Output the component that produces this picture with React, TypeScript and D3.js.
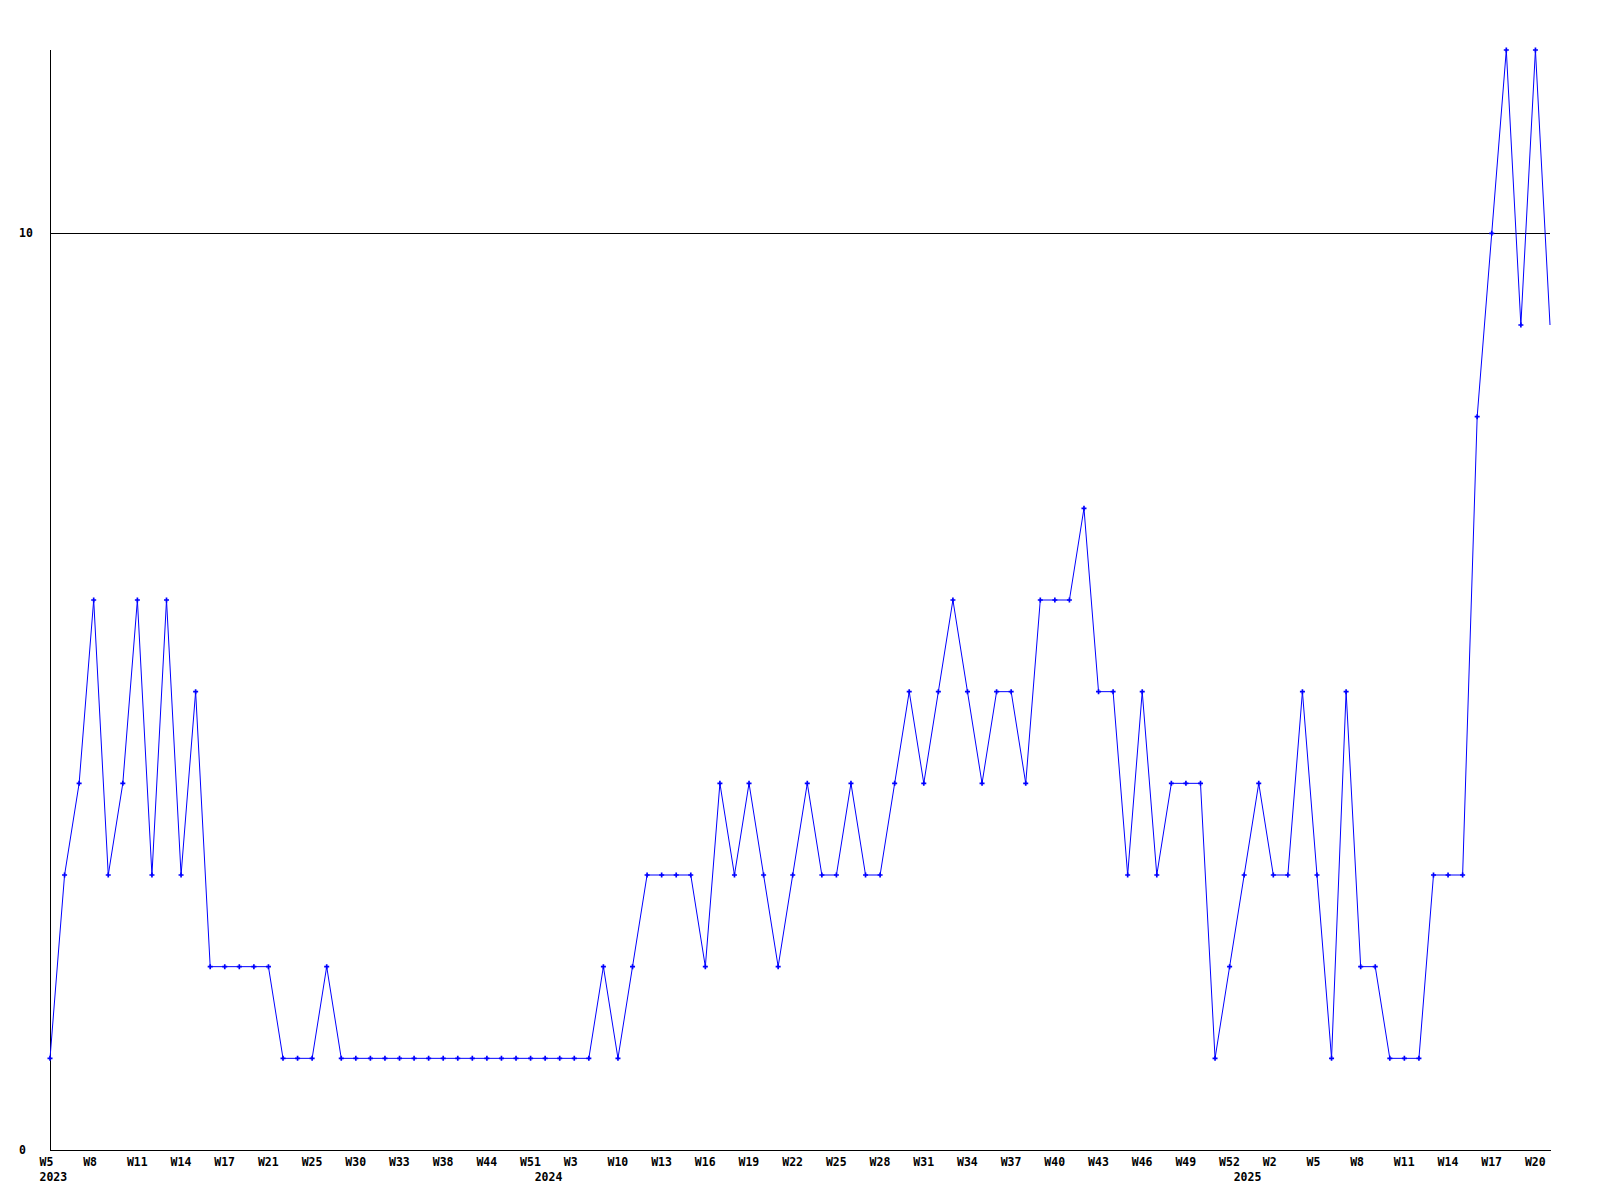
import { useEffect, useRef } from 'react';
import * as d3 from 'd3';

// weekly counts, one per week present in the data (2023 W5 .. 2025 W21)
const values: number[] = [
  1, 3, 4, 6, 3, 4, 6, 3, 6, 3, 5, 2, 2, 2, 2, 2, 1, 1, 1, 2,
  1, 1, 1, 1, 1, 1, 1, 1, 1, 1, 1, 1, 1, 1, 1, 1, 1, 1, 2, 1,
  2, 3, 3, 3, 3, 2, 4, 3, 4, 3, 2, 3, 4, 3, 3, 4, 3, 3, 4, 5,
  4, 5, 6, 5, 4, 5, 5, 4, 6, 6, 6, 7, 5, 5, 3, 5, 3, 4, 4, 4,
  1, 2, 3, 4, 3, 3, 5, 3, 1, 5, 2, 2, 1, 1, 1, 3, 3, 3, 8, 10,
  12, 9, 12, 9,
];

// week labels shown on every third point
const weekTicks: string[] = [
  'W5', 'W8', 'W11', 'W14', 'W17', 'W21', 'W25', 'W30', 'W33', 'W38', 'W44', 'W51',
  'W3', 'W10', 'W13', 'W16', 'W19', 'W22', 'W25', 'W28', 'W31', 'W34', 'W37', 'W40',
  'W43', 'W46', 'W49', 'W52', 'W2', 'W5', 'W8', 'W11', 'W14', 'W17', 'W20',
];
const weekTickStep = 3;

// year labels and the index of the point they start at
const years: string[] = ['2023', '2024', '2025'];
const yearStarts: number[] = [0, 34, 82];

const yTicks: number[] = [0, 10];
const yMax = 12;

function App() {
  const ref = useRef<SVGSVGElement>(null);

  const svgWidth = 1600;
  const svgHeight = 1200;

  useEffect(() => {
    const left = 50;
    const right = 1550;
    const top = 50;
    const bottom = 1150;
    const font = '"DejaVu Sans Mono", monospace';

    const svg = d3.select(ref.current);
    svg.selectAll('*').remove();

    const x = d3.scaleLinear().domain([0, values.length - 1]).range([left, right]);
    const y = d3.scaleLinear().domain([0, yMax]).range([bottom, top]);

    // grid line at 10 (0 is the x-axis itself)
    svg
      .append('g')
      .selectAll()
      .data(yTicks.filter((t) => t !== 0))
      .join('line')
      .attr('x1', left)
      .attr('x2', right)
      .attr('y1', (d) => Math.round(y(d)) + 0.5)
      .attr('y2', (d) => Math.round(y(d)) + 0.5)
      .attr('stroke', '#000')
      .attr('shape-rendering', 'crispEdges');

    // axes
    svg
      .append('line')
      .attr('x1', left + 0.5)
      .attr('x2', left + 0.5)
      .attr('y1', top)
      .attr('y2', bottom)
      .attr('stroke', '#000')
      .attr('shape-rendering', 'crispEdges');
    svg
      .append('line')
      .attr('x1', left)
      .attr('x2', right + 1)
      .attr('y1', bottom + 0.5)
      .attr('y2', bottom + 0.5)
      .attr('stroke', '#000')
      .attr('shape-rendering', 'crispEdges');

    // y labels
    svg
      .append('g')
      .attr('font-family', font)
      .attr('font-weight', 'bold')
      .attr('font-size', 11.5)
      .selectAll()
      .data(yTicks)
      .join('text')
      .attr('x', 19)
      .attr('y', (d) => y(d) + 4)
      .text((d) => String(d));

    // week labels
    svg
      .append('g')
      .attr('font-family', font)
      .attr('font-weight', 'bold')
      .attr('font-size', 11.5)
      .selectAll()
      .data(weekTicks)
      .join('text')
      .attr('x', (_, i) => x(i * weekTickStep) - 10.5)
      .attr('y', bottom + 16)
      .text((d) => d);

    // year labels
    svg
      .append('g')
      .attr('font-family', font)
      .attr('font-weight', 'bold')
      .attr('font-size', 11.5)
      .selectAll()
      .data(years)
      .join('text')
      .attr('x', (_, i) => x(yearStarts[i]) - 10.5)
      .attr('y', bottom + 31)
      .text((d) => d);

    // data line
    const line = d3
      .line<number>()
      .x((_, i) => x(i))
      .y((d) => y(d));
    svg
      .append('path')
      .datum(values)
      .attr('fill', 'none')
      .attr('stroke', '#0000ff')
      .attr('stroke-width', 1)
      .attr('d', line);

    // markers (none on the last point)
    svg
      .append('g')
      .attr('fill', '#0000ff')
      .selectAll()
      .data(values.slice(0, -1))
      .join('path')
      .attr('transform', (d, i) => `translate(${x(i)}, ${y(d)})`)
      .attr('d', d3.symbol(d3.symbolCross).size(14)());
  }, []);

  return (
    <svg
      ref={ref}
      width={svgWidth}
      height={svgHeight}
      style={{ position: 'absolute', left: 0, top: 0, background: '#fff' }}
    ></svg>
  );
}

export default App;
